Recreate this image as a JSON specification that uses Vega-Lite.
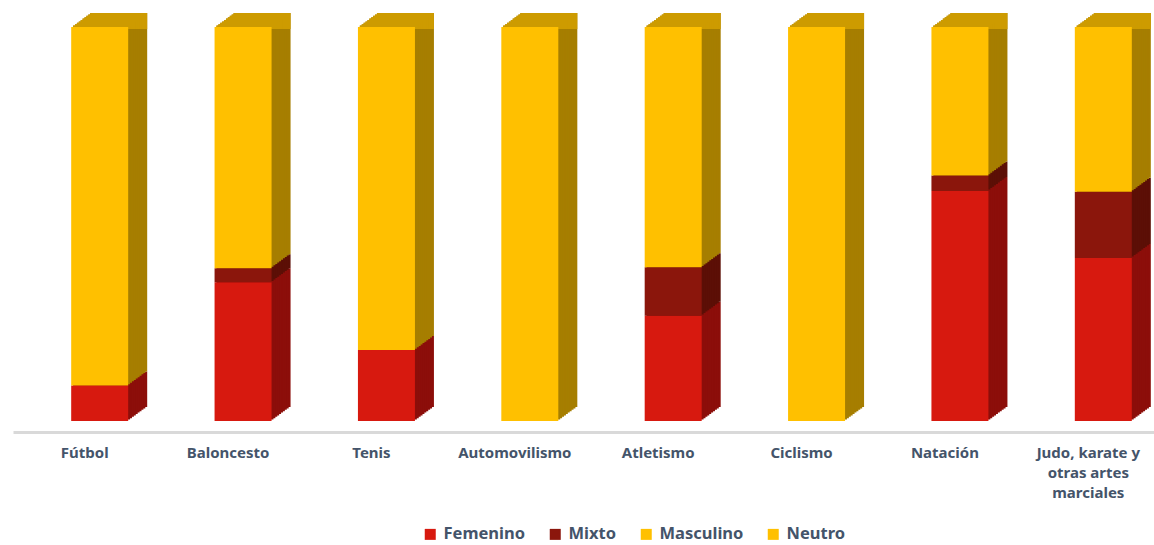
{
  "$schema": "https://vega.github.io/schema/vega-lite/v6.json",
  "width": 1141,
  "height": 394,
  "autosize": "none",
  "padding": {"left": 13, "top": 27, "right": 0, "bottom": 124},
  "background": "white",
  "config": {"view": {"stroke": null}, "font": "Noto Sans"},
  "data": {"values": [
    {"deporte": "Fútbol", "sexo": "Femenino", "valor": 9, "o": 1},
    {"deporte": "Fútbol", "sexo": "Mixto", "valor": 0, "o": 2},
    {"deporte": "Fútbol", "sexo": "Masculino", "valor": 91, "o": 3},
    {"deporte": "Fútbol", "sexo": "Neutro", "valor": 0, "o": 4},
    {"deporte": "Baloncesto", "sexo": "Femenino", "valor": 35.2, "o": 1},
    {"deporte": "Baloncesto", "sexo": "Mixto", "valor": 3.6, "o": 2},
    {"deporte": "Baloncesto", "sexo": "Masculino", "valor": 61.2, "o": 3},
    {"deporte": "Baloncesto", "sexo": "Neutro", "valor": 0, "o": 4},
    {"deporte": "Tenis", "sexo": "Femenino", "valor": 18, "o": 1},
    {"deporte": "Tenis", "sexo": "Mixto", "valor": 0, "o": 2},
    {"deporte": "Tenis", "sexo": "Masculino", "valor": 82, "o": 3},
    {"deporte": "Tenis", "sexo": "Neutro", "valor": 0, "o": 4},
    {"deporte": "Automovilismo", "sexo": "Femenino", "valor": 0, "o": 1},
    {"deporte": "Automovilismo", "sexo": "Mixto", "valor": 0, "o": 2},
    {"deporte": "Automovilismo", "sexo": "Masculino", "valor": 100, "o": 3},
    {"deporte": "Automovilismo", "sexo": "Neutro", "valor": 0, "o": 4},
    {"deporte": "Atletismo", "sexo": "Femenino", "valor": 26.7, "o": 1},
    {"deporte": "Atletismo", "sexo": "Mixto", "valor": 12.3, "o": 2},
    {"deporte": "Atletismo", "sexo": "Masculino", "valor": 61, "o": 3},
    {"deporte": "Atletismo", "sexo": "Neutro", "valor": 0, "o": 4},
    {"deporte": "Ciclismo", "sexo": "Femenino", "valor": 0, "o": 1},
    {"deporte": "Ciclismo", "sexo": "Mixto", "valor": 0, "o": 2},
    {"deporte": "Ciclismo", "sexo": "Masculino", "valor": 100, "o": 3},
    {"deporte": "Ciclismo", "sexo": "Neutro", "valor": 0, "o": 4},
    {"deporte": "Natación", "sexo": "Femenino", "valor": 58.4, "o": 1},
    {"deporte": "Natación", "sexo": "Mixto", "valor": 3.9, "o": 2},
    {"deporte": "Natación", "sexo": "Masculino", "valor": 37.7, "o": 3},
    {"deporte": "Natación", "sexo": "Neutro", "valor": 0, "o": 4},
    {"deporte": "Judo, karate y otras artes marciales", "sexo": "Femenino", "valor": 41.4, "o": 1},
    {"deporte": "Judo, karate y otras artes marciales", "sexo": "Mixto", "valor": 16.8, "o": 2},
    {"deporte": "Judo, karate y otras artes marciales", "sexo": "Masculino", "valor": 41.8, "o": 3},
    {"deporte": "Judo, karate y otras artes marciales", "sexo": "Neutro", "valor": 0, "o": 4}
  ]},
  "encoding": {
    "x": {"field": "deporte", "type": "nominal", "sort": null, "title": null,
      "scale": {"range": [0, 1147]},
      "axis": {"offset": 11, "domainColor": "#D9D9D9", "domainWidth": 3, "ticks": false, "labelAngle": 0,
        "labelFont": "Noto Sans", "labelFontSize": 15, "labelFontWeight": "bold", "labelColor": "#44546A",
        "labelPadding": 13, "labelLineHeight": 20, "labelLimit": 300,
        "labelExpr": "datum.label == 'Judo, karate y otras artes marciales' ? ['Judo, karate y', 'otras artes', 'marciales'] : datum.label"}},
    "y": {"field": "valor", "type": "quantitative", "stack": "zero", "scale": {"domain": [0, 100]}, "axis": null},
    "order": {"field": "o"}
  },
  "resolve": {"scale": {"color": "independent"}},
  "layer": [
    {"mark": {"type": "bar", "width": 57, "xOffset": 34, "yOffset": -14}, "encoding": {"color": {"field": "sexo", "scale": {"domain": ["Femenino", "Mixto", "Masculino", "Neutro"], "range": ["#8C0E0A", "#5C0F06", "#A67E00", "#A67E00"]}, "legend": null}}},
    {"mark": {"type": "bar", "width": 57, "xOffset": 32.1, "yOffset": -12.6}, "encoding": {"color": {"field": "sexo", "scale": {"domain": ["Femenino", "Mixto", "Masculino", "Neutro"], "range": ["#8C0E0A", "#5C0F06", "#A67E00", "#A67E00"]}, "legend": null}}},
    {"mark": {"type": "bar", "width": 57, "xOffset": 30.2, "yOffset": -11.2}, "encoding": {"color": {"field": "sexo", "scale": {"domain": ["Femenino", "Mixto", "Masculino", "Neutro"], "range": ["#8C0E0A", "#5C0F06", "#A67E00", "#A67E00"]}, "legend": null}}},
    {"mark": {"type": "bar", "width": 57, "xOffset": 28.3, "yOffset": -9.8}, "encoding": {"color": {"field": "sexo", "scale": {"domain": ["Femenino", "Mixto", "Masculino", "Neutro"], "range": ["#8C0E0A", "#5C0F06", "#A67E00", "#A67E00"]}, "legend": null}}},
    {"mark": {"type": "bar", "width": 57, "xOffset": 26.4, "yOffset": -8.4}, "encoding": {"color": {"field": "sexo", "scale": {"domain": ["Femenino", "Mixto", "Masculino", "Neutro"], "range": ["#8C0E0A", "#5C0F06", "#A67E00", "#A67E00"]}, "legend": null}}},
    {"mark": {"type": "bar", "width": 57, "xOffset": 24.5, "yOffset": -7}, "encoding": {"color": {"field": "sexo", "scale": {"domain": ["Femenino", "Mixto", "Masculino", "Neutro"], "range": ["#8C0E0A", "#5C0F06", "#A67E00", "#A67E00"]}, "legend": null}}},
    {"mark": {"type": "bar", "width": 57, "xOffset": 22.6, "yOffset": -5.6}, "encoding": {"color": {"field": "sexo", "scale": {"domain": ["Femenino", "Mixto", "Masculino", "Neutro"], "range": ["#8C0E0A", "#5C0F06", "#A67E00", "#A67E00"]}, "legend": null}}},
    {"mark": {"type": "bar", "width": 57, "xOffset": 20.7, "yOffset": -4.2}, "encoding": {"color": {"field": "sexo", "scale": {"domain": ["Femenino", "Mixto", "Masculino", "Neutro"], "range": ["#8C0E0A", "#5C0F06", "#A67E00", "#A67E00"]}, "legend": null}}},
    {"mark": {"type": "bar", "width": 57, "xOffset": 18.8, "yOffset": -2.8}, "encoding": {"color": {"field": "sexo", "scale": {"domain": ["Femenino", "Mixto", "Masculino", "Neutro"], "range": ["#8C0E0A", "#5C0F06", "#A67E00", "#A67E00"]}, "legend": null}}},
    {"mark": {"type": "bar", "width": 57, "xOffset": 16.9, "yOffset": -1.4}, "encoding": {"color": {"field": "sexo", "scale": {"domain": ["Femenino", "Mixto", "Masculino", "Neutro"], "range": ["#8C0E0A", "#5C0F06", "#A67E00", "#A67E00"]}, "legend": null}}},
    {"transform": [{"filter": "datum.o == 3"}], "mark": {"type": "bar", "width": 57, "xOffset": 34, "yOffset": -14, "color": "#CD9B00"}, "encoding": {"y": {"datum": 100, "type": "quantitative"}, "y2": {"datum": 99.5}}},
    {"transform": [{"filter": "datum.o == 3"}], "mark": {"type": "bar", "width": 57, "xOffset": 32.1, "yOffset": -12.6, "color": "#CD9B00"}, "encoding": {"y": {"datum": 100, "type": "quantitative"}, "y2": {"datum": 99.5}}},
    {"transform": [{"filter": "datum.o == 3"}], "mark": {"type": "bar", "width": 57, "xOffset": 30.2, "yOffset": -11.2, "color": "#CD9B00"}, "encoding": {"y": {"datum": 100, "type": "quantitative"}, "y2": {"datum": 99.5}}},
    {"transform": [{"filter": "datum.o == 3"}], "mark": {"type": "bar", "width": 57, "xOffset": 28.3, "yOffset": -9.8, "color": "#CD9B00"}, "encoding": {"y": {"datum": 100, "type": "quantitative"}, "y2": {"datum": 99.5}}},
    {"transform": [{"filter": "datum.o == 3"}], "mark": {"type": "bar", "width": 57, "xOffset": 26.4, "yOffset": -8.4, "color": "#CD9B00"}, "encoding": {"y": {"datum": 100, "type": "quantitative"}, "y2": {"datum": 99.5}}},
    {"transform": [{"filter": "datum.o == 3"}], "mark": {"type": "bar", "width": 57, "xOffset": 24.5, "yOffset": -7, "color": "#CD9B00"}, "encoding": {"y": {"datum": 100, "type": "quantitative"}, "y2": {"datum": 99.5}}},
    {"transform": [{"filter": "datum.o == 3"}], "mark": {"type": "bar", "width": 57, "xOffset": 22.6, "yOffset": -5.6, "color": "#CD9B00"}, "encoding": {"y": {"datum": 100, "type": "quantitative"}, "y2": {"datum": 99.5}}},
    {"transform": [{"filter": "datum.o == 3"}], "mark": {"type": "bar", "width": 57, "xOffset": 20.7, "yOffset": -4.2, "color": "#CD9B00"}, "encoding": {"y": {"datum": 100, "type": "quantitative"}, "y2": {"datum": 99.5}}},
    {"transform": [{"filter": "datum.o == 3"}], "mark": {"type": "bar", "width": 57, "xOffset": 18.8, "yOffset": -2.8, "color": "#CD9B00"}, "encoding": {"y": {"datum": 100, "type": "quantitative"}, "y2": {"datum": 99.5}}},
    {"transform": [{"filter": "datum.o == 3"}], "mark": {"type": "bar", "width": 57, "xOffset": 16.9, "yOffset": -1.4, "color": "#CD9B00"}, "encoding": {"y": {"datum": 100, "type": "quantitative"}, "y2": {"datum": 99.5}}},
    {"mark": {"type": "bar", "width": 57, "xOffset": 15}, "encoding": {"color": {"field": "sexo", "title": null,
      "scale": {"domain": ["Femenino", "Mixto", "Masculino", "Neutro"], "range": ["#D7190F", "#8B160C", "#FFC000", "#FFC000"]},
      "legend": {"orient": "none", "legendX": 409, "legendY": 499, "direction": "horizontal", "columns": 4, "symbolType": "square", "symbolSize": 121, "symbolStrokeWidth": 0,
        "labelFont": "Noto Sans", "labelFontSize": 16.5, "labelFontWeight": "bold", "labelColor": "#44546A", "labelOffset": 5, "columnPadding": 21}}}}
  ]
}
